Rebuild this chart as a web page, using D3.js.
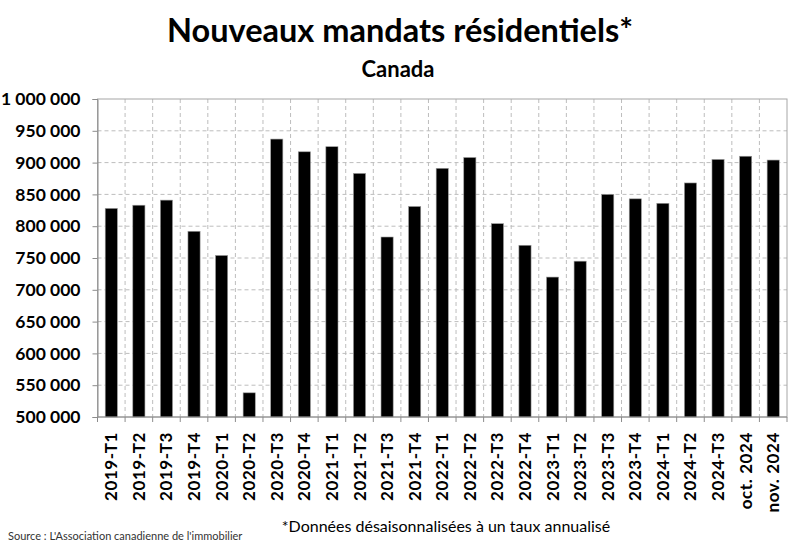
<!DOCTYPE html>
<html>
<head>
<meta charset="utf-8">
<script src="https://cdn.jsdelivr.net/npm/d3@7"></script>
<style>
  body { margin: 0; background: #fff; }
  svg { display: block; font-family: Lato, "Open Sans", sans-serif; }
</style>
</head>
<body>
<svg id="chart" width="800" height="548"></svg>
<script>
// categories and values (annualized, seasonally adjusted)
var categories = ["2019-T1","2019-T2","2019-T3","2019-T4",
    "2020-T1","2020-T2","2020-T3","2020-T4",
    "2021-T1","2021-T2","2021-T3","2021-T4",
    "2022-T1","2022-T2","2022-T3","2022-T4",
    "2023-T1","2023-T2","2023-T3","2023-T4",
    "2024-T1","2024-T2","2024-T3","oct. 2024","nov. 2024"];
var listings = [828000, 833000, 841000, 792000,
    754000, 538000, 937000, 917000,
    925000, 883000, 783000, 831000,
    891000, 908000, 804000, 770000,
    720000, 745000, 850000, 843000,
    836000, 868000, 905000, 910000, 904000];
var yTicks = [500000, 550000, 600000, 650000, 700000, 750000, 800000, 850000, 900000, 950000, 1000000];

var svg = d3.select("#chart");
var margin = {left: 97.5, right: 13, top: 99, bottom: 131};
var width = 800 - margin.left - margin.right,
    height = 548 - margin.top - margin.bottom;

var x = d3.scaleBand()
    .domain(categories)
    .range([margin.left, margin.left + width])
    .paddingInner(0.56)
    .paddingOuter(0.28);

var y = d3.scaleLinear()
    .domain([500000, 1000000])
    .range([margin.top + height, margin.top]);

var fmt = function(v) { return d3.format(",")(v).replace(/,/g, " "); };

// gridlines
var step = x.step();
var grid = svg.append("g").attr("class", "grid");
grid.selectAll("line.h")
    .data(yTicks.slice(1, -1))
    .enter().append("line")
    .attr("x1", margin.left).attr("x2", margin.left + width)
    .attr("y1", function(d) { return y(d); })
    .attr("y2", function(d) { return y(d); })
    .attr("stroke", "#bdbdbd")
    .attr("stroke-dasharray", "4,3");
grid.selectAll("line.v")
    .data(d3.range(1, categories.length))
    .enter().append("line")
    .attr("x1", function(i) { return margin.left + i * step; })
    .attr("x2", function(i) { return margin.left + i * step; })
    .attr("y1", margin.top).attr("y2", margin.top + height)
    .attr("stroke", "#bdbdbd")
    .attr("stroke-dasharray", "4,3");

// plot border
svg.append("rect")
    .attr("x", margin.left).attr("y", margin.top)
    .attr("width", width).attr("height", height)
    .attr("fill", "none")
    .attr("stroke", "#a6a6a6");

// bars
svg.append("g")
    .selectAll("rect")
    .data(listings)
    .enter().append("rect")
    .attr("x", function(d, i) { return x(categories[i]); })
    .attr("width", x.bandwidth())
    .attr("y", function(d) { return y(d); })
    .attr("height", function(d) { return y(500000) - y(d); })
    .attr("fill", "#000")
    .attr("stroke", "#9a9a9a")
    .attr("stroke-width", 0.6);

// y axis
var yAxis = svg.append("g")
    .attr("transform", "translate(" + margin.left + ",0)")
    .call(d3.axisLeft(y).tickValues(yTicks).tickFormat(fmt).tickSize(5).tickPadding(12));
yAxis.select(".domain").attr("stroke", "#8c8c8c");
yAxis.selectAll(".tick line").attr("stroke", "#8c8c8c");
yAxis.selectAll("text")
    .attr("fill", "#000")
    .style("font-size", "17.5px")
    .style("font-weight", "bold")
    .style("font-family", "Lato, sans-serif");

// x axis: ticks at category boundaries
var xAxisG = svg.append("g");
xAxisG.append("line")
    .attr("x1", margin.left).attr("x2", margin.left + width)
    .attr("y1", margin.top + height).attr("y2", margin.top + height)
    .attr("stroke", "#8c8c8c");
xAxisG.selectAll("line.tick")
    .data(d3.range(0, categories.length + 1))
    .enter().append("line")
    .attr("x1", function(i) { return margin.left + i * step; })
    .attr("x2", function(i) { return margin.left + i * step; })
    .attr("y1", margin.top + height).attr("y2", margin.top + height + 5)
    .attr("stroke", "#8c8c8c");
xAxisG.selectAll("text")
    .data(categories)
    .enter().append("text")
    .attr("transform", function(d) {
        return "translate(" + (x(d) + x.bandwidth() / 2 + 6) + "," + (margin.top + height + 15) + ") rotate(-90)";
    })
    .attr("text-anchor", "end")
    .style("font-size", "17px")
    .style("font-weight", "bold")
    .style("letter-spacing", "0.6px")
    .text(function(d) { return d; });

// titles
svg.append("text")
    .attr("x", 400).attr("y", 42)
    .attr("text-anchor", "middle")
    .style("font-size", "32.5px")
    .style("font-weight", "bold")
    .text("Nouveaux mandats résidentiels*");
svg.append("text")
    .attr("x", 398).attr("y", 77)
    .attr("text-anchor", "middle")
    .style("font-size", "22px")
    .style("font-weight", "bold")
    .text("Canada");

// notes
svg.append("text")
    .attr("x", 446).attr("y", 532)
    .attr("text-anchor", "middle")
    .style("font-size", "16px")
    .text("*Données désaisonnalisées à un taux annualisé");
svg.append("text")
    .attr("x", 8).attr("y", 540)
    .style("font-size", "11px")
    .attr("fill", "#333")
    .text("Source : L'Association canadienne de l'immobilier");
</script>
</body>
</html>
